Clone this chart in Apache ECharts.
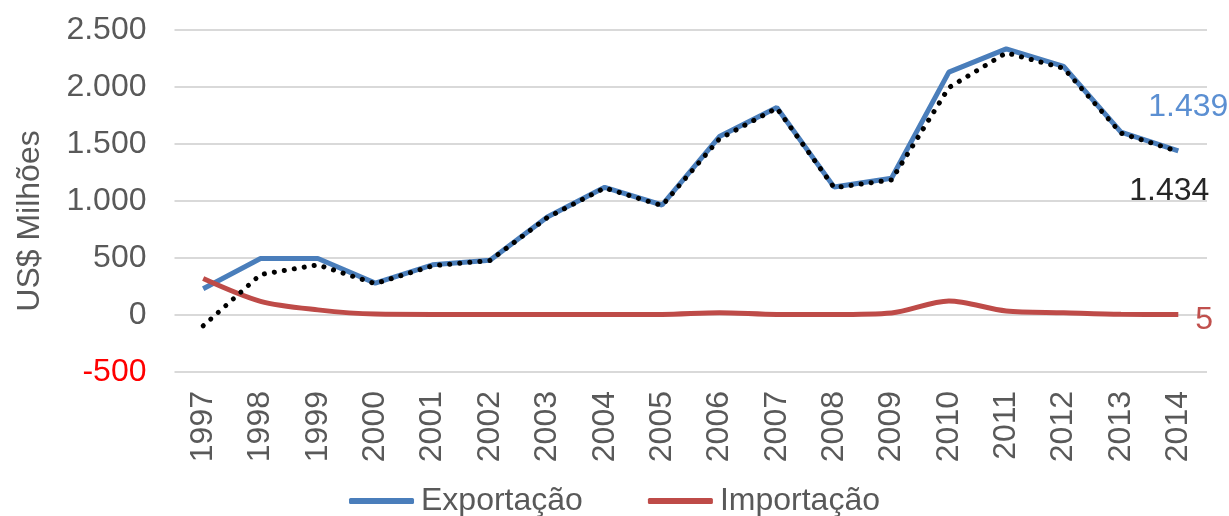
<!DOCTYPE html>
<html>
<head>
<meta charset="utf-8">
<script src="https://cdn.jsdelivr.net/npm/echarts@6/dist/echarts.min.js"></script>
<style>
  html, body { margin: 0; padding: 0; background: #ffffff; }
  #chart-div { width: 1229px; height: 516px; }
</style>
</head>
<body>
<div id="chart-div"></div>
<script>
// data
var anos = ['1997', '1998', '1999', '2000', '2001', '2002', '2003', '2004', '2005',
    '2006', '2007', '2008', '2009', '2010', '2011', '2012', '2013', '2014'];
var exportacao = [230, 495, 495, 280, 440, 480, 860, 1120, 965,
    1565, 1820, 1122, 1200, 2130, 2335, 2180, 1605, 1439];
var importacao = [320, 120, 45, 8, 5, 5, 5, 5, 5,
    20, 5, 5, 18, 123, 35, 20, 6, 5];
var saldo = [-95, 355, 440, 275, 432, 478, 855, 1115, 960,
    1545, 1815, 1117, 1185, 1995, 2300, 2165, 1595, 1434];
var yTicks = [-500, 0, 500, 1000, 1500, 2000, 2500];

var chartDom = document.getElementById('chart-div');
var myChart = echarts.init(chartDom);
var fonte = '"Liberation Sans", Arial, sans-serif';

function fmt(v) {
    var s = String(Math.abs(v)).replace(/\B(?=(\d{3})+(?!\d))/g, '.');
    return (v < 0 ? '-' : '') + s;
}

var option = {
    animation: false,
    textStyle: { fontFamily: fonte },
    grid: {
        left: 174.5,
        right: 22,
        top: 30,
        bottom: 144
    },
    legend: {
        data: ['Exportação', 'Importação'],
        top: 480,
        left: 'center',
        icon: 'roundRect',
        itemWidth: 65,
        itemHeight: 6,
        itemGap: 65,
        selectedMode: false,
        textStyle: {
            fontFamily: fonte,
            fontSize: 32,
            color: '#595959',
            padding: [0, 0, 0, 2]
        }
    },
    xAxis: {
        type: 'category',
        data: anos,
        boundaryGap: true,
        axisLine: { show: false },
        axisTick: { show: false },
        axisLabel: {
            rotate: 90,
            margin: 19,
            fontSize: 32,
            color: '#595959',
            fontFamily: fonte
        }
    },
    yAxis: {
        type: 'value',
        min: yTicks[0],
        max: yTicks[yTicks.length - 1],
        interval: 500,
        name: 'US$ Milhões',
        nameLocation: 'middle',
        nameGap: 128,
        nameTextStyle: {
            fontSize: 32,
            color: '#595959',
            fontFamily: fonte,
            padding: [0, 40, 0, 0]
        },
        axisLine: { show: false },
        axisTick: { show: false },
        splitLine: {
            lineStyle: { color: '#d9d9d9', width: 2 }
        },
        axisLabel: {
            margin: 28,
            fontSize: 32,
            fontFamily: fonte,
            formatter: function (v) { return fmt(v); },
            color: function (v) { return Number(v) < 0 ? '#ff0000' : '#595959'; }
        }
    },
    series: [
        {
            name: 'Exportação',
            type: 'line',
            data: exportacao,
            symbol: 'none',
            z: 2,
            lineStyle: { color: '#4a7ebb', width: 5 },
            itemStyle: { color: '#4a7ebb' },
            endLabel: {
                show: true,
                formatter: function (p) { return fmt(p.value); },
                fontSize: 32,
                fontFamily: fonte,
                color: '#5b8fd2',
                offset: [-38, -44]
            }
        },
        {
            name: 'Importação',
            type: 'line',
            data: importacao,
            symbol: 'none',
            smooth: 0.3,
            z: 2,
            lineStyle: { color: '#be4b48', width: 5 },
            itemStyle: { color: '#be4b48' },
            endLabel: {
                show: true,
                formatter: function (p) { return fmt(p.value); },
                fontSize: 32,
                fontFamily: fonte,
                color: '#c0504d',
                offset: [9, 6]
            }
        },
        {
            name: 'Saldo',
            type: 'line',
            data: saldo,
            symbol: 'none',
            z: 3,
            lineStyle: {
                color: '#000000',
                width: 5,
                type: [0.1, 10],
                cap: 'round'
            },
            itemStyle: { color: '#000000' },
            endLabel: {
                show: true,
                formatter: function (p) { return fmt(p.value); },
                fontSize: 32,
                fontFamily: fonte,
                color: '#262626',
                offset: [-57, 40]
            }
        }
    ]
};

myChart.setOption(option);
</script>
</body>
</html>
